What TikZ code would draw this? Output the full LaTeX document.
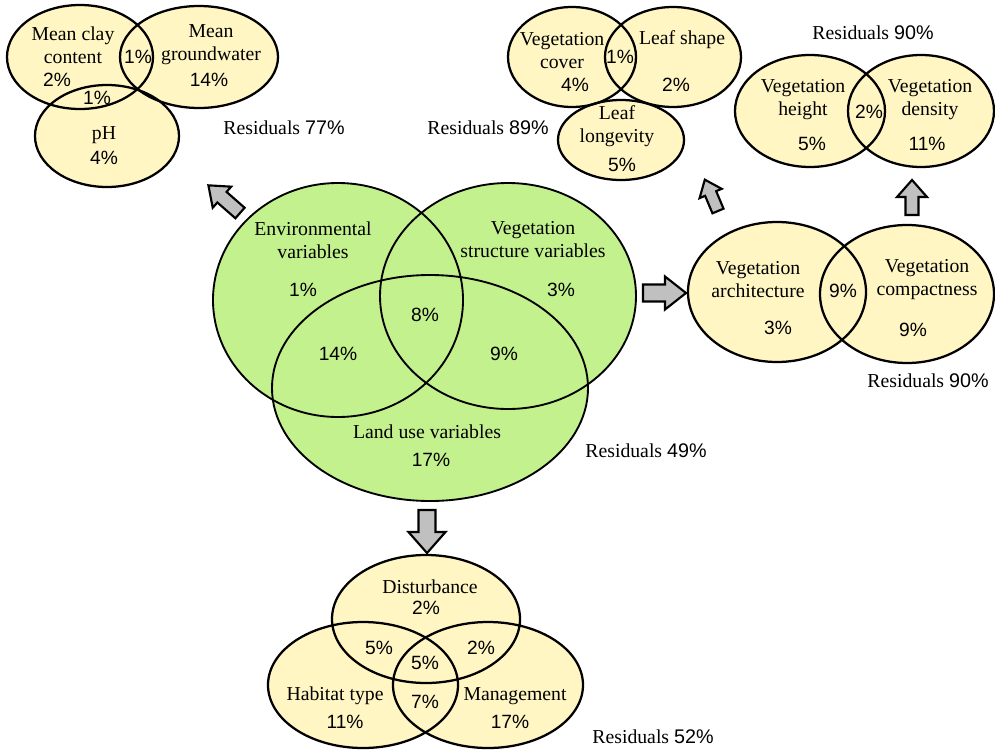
\documentclass[tikz,border=0pt]{standalone}
\usepackage{fontspec}
\setmainfont{Liberation Serif}
\newfontfamily\numfont{Liberation Sans}
\definecolor{vgreen}{RGB}{195,241,142}
\definecolor{vyellow}{RGB}{255,246,195}
\definecolor{agray}{RGB}{192,192,192}
\newcommand{\blockarrow}[7]{% x y angle length headlen headwidth shaftwidth
  \draw[arrowshape,shift={(#1,#2)},rotate=#3]
    (0,-#7/2) -- (#4-#5,-#7/2) -- (#4-#5,-#6/2) -- (#4,0) -- (#4-#5,#6/2) -- (#4-#5,#7/2) -- (0,#7/2) -- cycle;}
\begin{document}
\begin{tikzpicture}[x=0.75pt,y=-0.75pt,
  lbl/.style={font=\fontsize{14.8}{17.25}\selectfont, align=center, inner sep=0pt},
  num/.style={font=\fontsize{14.4}{17.25}\selectfont\numfont, inner sep=0pt},
  gfill/.style={fill=vgreen},
  yfill/.style={fill=vyellow},
  outline/.style={draw=black, line width=1.7pt},
  arrowshape/.style={fill=agray, draw=black, line width=1.6pt, line join=miter}]
\useasboundingbox (0,0) rectangle (995,750);

% ---------- fills ----------
% top-left
\fill[yfill] (80,57) ellipse [x radius=73, y radius=52];
\fill[yfill] (199,57) ellipse [x radius=79, y radius=51];
\fill[yfill] (107,136) ellipse [x radius=72, y radius=51];
% top-middle
\fill[yfill] (572,57) ellipse [x radius=64, y radius=50];
\fill[yfill] (673,57) ellipse [x radius=68, y radius=50];
\fill[yfill] (621,140) ellipse [x radius=63, y radius=40];
% top-right
\fill[yfill] (810,111) ellipse [x radius=75, y radius=56];
\fill[yfill] (921,111) ellipse [x radius=73, y radius=56];
% middle-right
\fill[yfill] (777,292) ellipse [x radius=89, y radius=70];
\fill[yfill] (907,294) ellipse [x radius=87, y radius=69];
% centre
\fill[gfill] (338,300) ellipse [x radius=125, y radius=117];
\fill[gfill] (508,296) ellipse [x radius=128, y radius=113];
\fill[gfill] (430,388) ellipse [x radius=158, y radius=113];
% bottom
\fill[yfill] (426,619) ellipse [x radius=94, y radius=64];
\fill[yfill] (363,685) ellipse [x radius=95, y radius=63];
\fill[yfill] (488,685) ellipse [x radius=95, y radius=63];

% ---------- outlines ----------
\draw[outline] (80,57) ellipse [x radius=73, y radius=52];
\draw[outline] (199,57) ellipse [x radius=79, y radius=51];
\draw[outline] (107,136) ellipse [x radius=72, y radius=51];
\draw[outline] (572,57) ellipse [x radius=64, y radius=50];
\draw[outline] (673,57) ellipse [x radius=68, y radius=50];
\draw[outline] (621,140) ellipse [x radius=63, y radius=40];
\draw[outline] (810,111) ellipse [x radius=75, y radius=56];
\draw[outline] (921,111) ellipse [x radius=73, y radius=56];
\draw[outline] (777,292) ellipse [x radius=89, y radius=70];
\draw[outline] (907,294) ellipse [x radius=87, y radius=69];
\draw[outline, line width=1.4pt] (338,300) ellipse [x radius=125, y radius=117];
\draw[outline, line width=1.4pt] (508,296) ellipse [x radius=128, y radius=113];
\draw[outline, line width=1.4pt] (430,388) ellipse [x radius=158, y radius=113];
\draw[outline] (426,619) ellipse [x radius=94, y radius=64];
\draw[outline] (363,685) ellipse [x radius=95, y radius=63];
\draw[outline] (488,685) ellipse [x radius=95, y radius=63];

% ---------- block arrows ----------
\blockarrow{240}{213}{138.8}{42}{18}{28}{14}
\blockarrow{718}{211}{112.8}{34}{15}{24}{12}
\blockarrow{912}{215}{90}{35}{17}{30}{13}
\blockarrow{643}{293}{0}{43}{21}{33}{17}
\blockarrow{427}{510}{-90}{43}{21}{37}{17}

% ---------- texts: top-left ----------
\node[lbl] (tl1) at (73,45) {Mean clay\\content};
\node[num] (tl2) at (57,80) {2\%};
\node[num] (tl3) at (138,57) {1\%};
\node[lbl] (tl4) at (211,45) {Mean\\groundwater};
\node[num] (tl5) at (209,80) {14\%};
\node[num] (tl6) at (97,98) {1\%};
\node[lbl] (tl7) at (104,135) {pH};
\node[num] (tl8) at (104,158) {4\%};
\node[lbl] (tl9) at (284,128) {Residuals {\numfont 77\%}};

% ---------- top-middle ----------
\node[lbl] (tm1) at (562,51) {Vegetation\\cover};
\node[num] (tm2) at (575,85) {4\%};
\node[num] (tm3) at (620,57) {1\%};
\node[lbl] (tm4) at (682,40) {Leaf shape};
\node[num] (tm5) at (676,85) {2\%};
\node[lbl] (tm6) at (617,126) {Leaf\\longevity};
\node[num] (tm7) at (622,165) {5\%};
\node[lbl] (tm8) at (488,128) {Residuals {\numfont 89\%}};

% ---------- top-right ----------
\node[lbl] (tr1) at (873,33) {Residuals {\numfont 90\%}};
\node[lbl] (tr2) at (803,100) {Vegetation\\height};
\node[num] (tr3) at (812,144) {5\%};
\node[num] (tr4) at (869,112) {2\%};
\node[lbl] (tr5) at (930,100) {Vegetation\\density};
\node[num] (tr6) at (927,144) {11\%};

% ---------- middle-right ----------
\node[lbl] (mr1) at (758,280) {Vegetation\\architecture};
\node[num] (mr2) at (778,328) {3\%};
\node[num] (mr3) at (843,291) {9\%};
\node[lbl] (mr4) at (927,280) {Vegetation\\compactness};
\node[num] (mr5) at (913,330) {9\%};
\node[lbl] (mr6) at (928,381) {Residuals {\numfont 90\%}};

% ---------- centre ----------
\node[lbl] (c1) at (313,240) {Environmental\\variables};
\node[num] (c2) at (303,290) {1\%};
\node[lbl] (c3) at (533,240) {Vegetation\\structure variables};
\node[num] (c4) at (561,290) {3\%};
\node[num] (c5) at (425,315) {8\%};
\node[num] (c6) at (338,354) {14\%};
\node[num] (c7) at (504,354) {9\%};
\node[lbl] (c8) at (427,432) {Land use variables};
\node[num] (c9) at (431,460) {17\%};
\node[lbl] (c10) at (646,451) {Residuals {\numfont 49\%}};

% ---------- bottom ----------
\node[lbl] (b1) at (430,587) {Disturbance};
\node[num] (b2) at (426,608) {2\%};
\node[num] (b3) at (379,648) {5\%};
\node[num] (b4) at (481,648) {2\%};
\node[num] (b5) at (425,663) {5\%};
\node[lbl] (b6) at (335,696) {Habitat type};
\node[num] (b7) at (345,722) {11\%};
\node[num] (b8) at (425,702) {7\%};
\node[lbl] (b9) at (515,696) {Management};
\node[num] (b10) at (510,722) {17\%};
\node[lbl] (b11) at (653,737) {Residuals {\numfont 52\%}};
\end{tikzpicture}
\end{document}
